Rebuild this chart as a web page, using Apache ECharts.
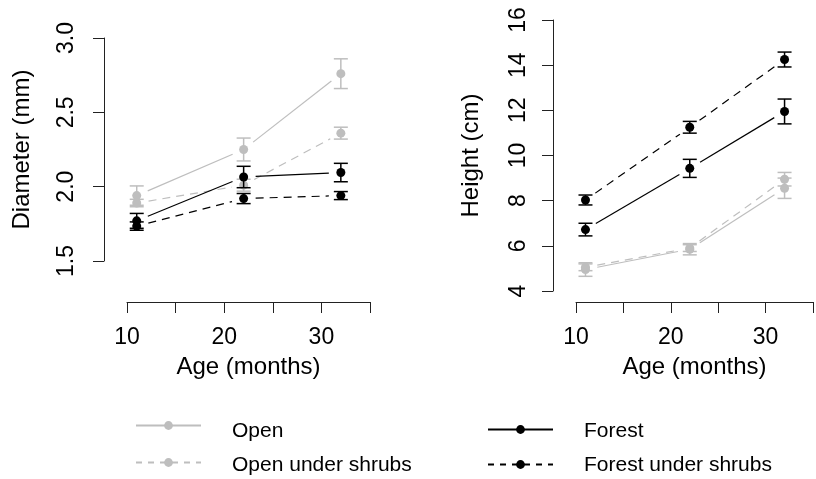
<!DOCTYPE html>
<html><head><meta charset="utf-8">
<script src="https://cdn.jsdelivr.net/npm/echarts@6/dist/echarts.min.js"></script>
<style>html,body{margin:0;padding:0;background:#fff}#c{width:816px;height:479px}</style>
</head><body><div id="c"></div>
<script>
const ages = [11, 22, 32];
const groupNames = ['Open', 'Open under shrubs', 'Forest', 'Forest under shrubs'];
// Diameter (mm)
const diamOpen = [1.94, 2.25, 2.76];
const diamOpenErr = [0.065, 0.077, 0.10];
const diamOpenShrub = [1.89, 2.01, 2.36];
const diamOpenShrubErr = [0.025, 0.04, 0.04];
const diamForest = [1.77, 2.065, 2.095];
const diamForestErr = [0.05, 0.072, 0.062];
const diamForestShrub = [1.735, 1.92, 1.94];
const diamForestShrubErr = [0.028, 0.034, 0.027];
// Height (cm)
const htOpen = [4.95, 5.85, 8.55];
const htOpenErr = [0.3, 0.25, 0.45];
const htOpenShrub = [5.05, 5.9, 8.95];
const htOpenShrubErr = [0.15, 0.15, 0.3];
const htForest = [6.72, 9.43, 11.95];
const htForestErr = [0.28, 0.4, 0.55];
const htForestShrub = [8.03, 11.25, 14.25];
const htForestShrubErr = [0.22, 0.26, 0.33];
// Tick labels
const xTicks = [10, 15, 20, 25, 30, 35];
const xTickLabels = ['10', '', '20', '', '30', ''];
const diamTicks = [1.5, 2.0, 2.5, 3.0];
const diamTickLabels = ['1.5', '2.0', '2.5', '3.0'];
const htTicks = [4, 6, 8, 10, 12, 14, 16];
const htTickLabels = ['4', '6', '8', '10', '12', '14', '16'];

const GRAY = '#bebebe', BLACK = '#000000';
const FONT = 'Liberation Sans';
const styles = [
  {color: GRAY, dash: 'solid'},
  {color: GRAY, dash: [8, 6]},
  {color: BLACK, dash: 'solid'},
  {color: BLACK, dash: [8, 6]}
];
const panels = [
  {vals: [diamOpen, diamOpenShrub, diamForest, diamForestShrub],
   errs: [diamOpenErr, diamOpenShrubErr, diamForestErr, diamForestShrubErr]},
  {vals: [htOpen, htOpenShrub, htForest, htForestShrub],
   errs: [htOpenErr, htOpenShrubErr, htForestErr, htForestShrubErr]}
];

function segRender(color, dash) {
  return function (params, api) {
    const p1 = api.coord([api.value(0), api.value(1)]);
    const p2 = api.coord([api.value(2), api.value(3)]);
    const dx = p2[0] - p1[0], dy = p2[1] - p1[1];
    const L = Math.sqrt(dx * dx + dy * dy);
    const g = 12;
    if (L <= 2 * g) return null;
    const ux = dx / L, uy = dy / L;
    return {
      type: 'line',
      shape: {x1: p1[0] + ux * g, y1: p1[1] + uy * g, x2: p2[0] - ux * g, y2: p2[1] - uy * g},
      style: {stroke: color, lineWidth: 1.2, lineDash: dash === 'solid' ? null : dash}
    };
  };
}
function errRender(color) {
  return function (params, api) {
    const top = api.coord([api.value(0), api.value(2)]);
    const bot = api.coord([api.value(0), api.value(1)]);
    const hw = 7;
    const st = {stroke: color, lineWidth: 1.5};
    return {type: 'group', children: [
      {type: 'line', shape: {x1: top[0], y1: top[1], x2: bot[0], y2: bot[1]}, style: st},
      {type: 'line', shape: {x1: top[0] - hw, y1: top[1], x2: top[0] + hw, y2: top[1]}, style: st},
      {type: 'line', shape: {x1: bot[0] - hw, y1: bot[1], x2: bot[0] + hw, y2: bot[1]}, style: st}
    ]};
  };
}

const series = [];
panels.forEach((pn, p) => {
  pn.vals.forEach((vals, g) => {
    const st = styles[g];
    const errs = pn.errs[g];
    series.push({
      type: 'custom', xAxisIndex: p, yAxisIndex: p, z: 2 + g * 3,
      renderItem: segRender(st.color, st.dash),
      encode: {x: [0, 2], y: [1, 3]},
      data: ages.slice(0, -1).map((a, i) => [a, vals[i], ages[i + 1], vals[i + 1]]),
      silent: true
    });
    series.push({
      type: 'custom', xAxisIndex: p, yAxisIndex: p, z: 3 + g * 3,
      renderItem: errRender(st.color),
      encode: {x: 0, y: [1, 2]},
      data: ages.map((a, i) => [a, vals[i] - errs[i], vals[i] + errs[i]]),
      silent: true
    });
    series.push({
      type: 'scatter', xAxisIndex: p, yAxisIndex: p, z: 4 + g * 3,
      symbol: 'circle', symbolSize: 9,
      itemStyle: {color: st.color, opacity: 1},
      data: ages.map((a, i) => [a, vals[i]]),
      silent: true
    });
  });
});
// legend-only series
groupNames.forEach((name, g) => {
  const st = styles[g];
  series.push({
    type: 'line', name: name, xAxisIndex: 0, yAxisIndex: 0, data: [],
    symbol: 'circle', symbolSize: 9, color: st.color,
    itemStyle: {color: st.color},
    lineStyle: {color: st.color, width: 1.2, type: st.dash === 'solid' ? 'solid' : [6, 6]}
  });
});

function mkLegend(name, left, top, dy) {
  return {
    data: [name], left: left, top: top, orient: 'horizontal', padding: 0,
    itemWidth: 65, itemHeight: 11, selectedMode: false,
    formatter: n => '{t|' + n + '}',
    textStyle: {fontFamily: FONT, fontSize: 21, color: '#000', padding: [0, 0, 0, 26],
      rich: {t: {fontFamily: FONT, fontSize: 21, color: '#000', padding: [2 * dy, 0, 0, 0]}}}
  };
}

function xAxisCfg(gi, offset) {
  return {
    type: 'value', gridIndex: gi, min: xTicks[0], max: xTicks[xTicks.length - 1], interval: 5,
    offset: offset, name: 'Age (months)', nameLocation: 'middle', nameGap: 53,
    nameTextStyle: {fontFamily: FONT, fontSize: 24, color: '#000'},
    axisLine: {show: true, lineStyle: {color: '#222', width: 1}},
    axisTick: {show: true, length: 11, lineStyle: {color: '#222', width: 1}},
    axisLabel: {fontFamily: FONT, fontSize: 23, color: '#000', margin: 24,
      formatter: v => { const k = xTicks.indexOf(v); return k >= 0 ? xTickLabels[k] : ''; }},
    splitLine: {show: false}
  };
}
function yAxisCfg(gi, ticks, labels, interval, name, margin) {
  return {
    type: 'value', gridIndex: gi, min: ticks[0], max: ticks[ticks.length - 1], interval: interval,
    offset: 23, name: name, nameLocation: 'middle', nameGap: 70,
    nameTextStyle: {fontFamily: FONT, fontSize: 24, color: '#000'},
    axisLine: {show: true, lineStyle: {color: '#222', width: 1}},
    axisTick: {show: true, length: 11, lineStyle: {color: '#222', width: 1}},
    axisLabel: {fontFamily: FONT, fontSize: 23, color: '#000', margin: margin, rotate: 90,
      formatter: v => { const k = ticks.findIndex(t => Math.abs(t - v) < 1e-9); return k >= 0 ? labels[k] : ''; }},
    splitLine: {show: false}
  };
}

const chart = echarts.init(document.getElementById('c'), null, {renderer: 'canvas'});
chart.setOption({
  backgroundColor: '#fff',
  animation: false,
  grid: [
    {left: 127, top: 38, width: 243, height: 223},
    {left: 576, top: 20, width: 244, height: 271}
  ],
  xAxis: [xAxisCfg(0, 41), xAxisCfg(1, 11)],
  yAxis: [
    yAxisCfg(0, diamTicks, diamTickLabels, 0.5, 'Diameter (mm)', 26),
    yAxisCfg(1, htTicks, htTickLabels, 2, 'Height (cm)', 23)
  ],
  legend: [
    mkLegend(groupNames[0], 135, 421, 6),
    mkLegend(groupNames[1], 135, 455, 3),
    mkLegend(groupNames[2], 487, 421, 2),
    mkLegend(groupNames[3], 487, 455, 1)
  ],
  series: series
});
</script></body></html>
